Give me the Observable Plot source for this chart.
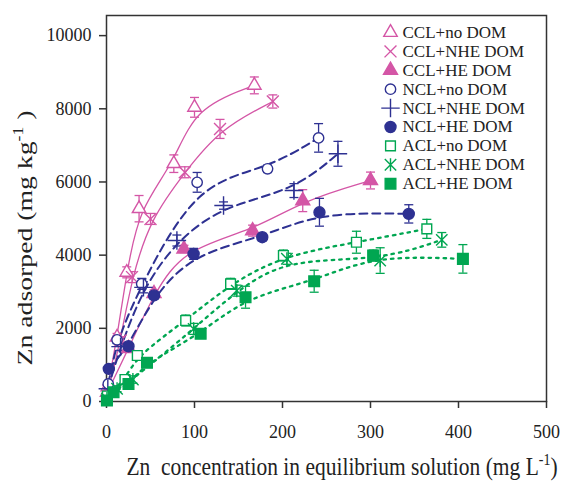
<!DOCTYPE html>
<html><head><meta charset="utf-8">
<script src="https://cdn.jsdelivr.net/npm/d3@7"></script>
<script src="https://cdn.jsdelivr.net/npm/@observablehq/plot@0.6"></script>
<style>
html,body{margin:0;padding:0;background:#fff;}
#chart{width:561px;height:483px;}
</style></head><body><div id="chart"></div>
<script>
// ---- data ----
const seriesNames = ["CCL+no DOM","CCL+NHE DOM","CCL+HE DOM","NCL+no DOM","NCL+NHE DOM","NCL+HE DOM","ACL+no DOM","ACL+NHE DOM","ACL+HE DOM"];
const xTicks = [0,100,200,300,400,500];
const yTicks = [0,2000,4000,6000,8000,10000];

const cclNoDomX = [1.5, 12, 23, 37, 76.5, 100, 168];
const cclNoDomY = [400, 1760, 3530, 5270, 6500, 8040, 8640];
const cclNoDomE = [0, 100, 150, 360, 240, 270, 230];

const cclNheX = [2, 16, 29, 50, 89, 129, 189];
const cclNheY = [300, 1670, 3400, 4990, 6265, 7450, 8200];
const cclNheE = [0, 100, 150, 150, 150, 260, 180];

const cclHeX = [1, 25, 54, 88, 166, 223, 300];
const cclHeY = [250, 1450, 2950, 4170, 4670, 5490, 6040];
const cclHeE = [0, 100, 100, 100, 150, 300, 230];

const nclNoDomX = [2, 12, 40, 103, 183, 241];
const nclNoDomY = [480, 1685, 3215, 5990, 6360, 7205];
const nclNoDomE = [0, 100, 150, 270, 100, 390];

const nclNheX = [1.5, 16, 42, 80, 133, 213, 263];
const nclNheY = [350, 1500, 3120, 4400, 5355, 5765, 6770];
const nclNheE = [0, 100, 150, 150, 100, 190, 340];

const nclHeX = [2.6, 25, 54, 99, 177, 242, 343.5];
const nclHeY = [893, 1510, 2900, 4035, 4490, 5172, 5128];
const nclHeE = [0, 100, 100, 150, 100, 380, 250];

const aclNoDomX = [1, 21, 35, 90, 141, 201, 284, 364];
const aclNoDomY = [150, 600, 1257, 2213, 3216, 3990, 4353, 4718];
const aclNoDomE = [0, 100, 120, 150, 150, 150, 300, 260];

const aclNheX = [0.5, 12, 30, 99, 148, 205, 311, 381];
const aclNheY = [80, 350, 600, 1985, 3030, 3900, 3852, 4418];
const aclNheE = [0, 80, 100, 150, 150, 150, 350, 200];

const aclHeX = [0.5, 8, 25, 46, 107, 158, 236, 303, 405];
const aclHeY = [30, 250, 480, 1057, 1850, 2850, 3287, 3989, 3898];
const aclHeE = [0, 80, 100, 100, 100, 300, 300, 150, 390];

const seriesX = [cclNoDomX, cclNheX, cclHeX, nclNoDomX, nclNheX, nclHeX, aclNoDomX, aclNheX, aclHeX];
const seriesY = [cclNoDomY, cclNheY, cclHeY, nclNoDomY, nclNheY, nclHeY, aclNoDomY, aclNheY, aclHeY];
const seriesE = [cclNoDomE, cclNheE, cclHeE, nclNoDomE, nclNheE, nclHeE, aclNoDomE, aclNheE, aclHeE];

// ---- styles ----
const PINK = "#d456a6", BLUE = "#2e3192", GREEN = "#00a651";
const FAM = "'Liberation Serif','Times New Roman',Times,serif";
const asteriskX = {draw(ctx, size){const r = Math.sqrt(size/Math.PI)*0.95;
  ctx.moveTo(-r,-r); ctx.lineTo(r,r); ctx.moveTo(-r,r); ctx.lineTo(r,-r);
  ctx.moveTo(0,-r*1.15); ctx.lineTo(0,r*1.15);}};
const capSym = {draw(ctx, size){const r = Math.sqrt(size/Math.PI); ctx.moveTo(-r,0); ctx.lineTo(r,0);}};
const styles = [
  {color: PINK, symbol: "triangle", filled: false, r: 5, dash: null, lw: 1.3},
  {color: PINK, symbol: "times", filled: false, r: 5.5, dash: null, lw: 1.3},
  {color: PINK, symbol: "triangle", filled: true, r: 5.2, dash: null, lw: 1.3},
  {color: BLUE, symbol: "circle", filled: false, r: 5.2, dash: "8,5", lw: 2},
  {color: BLUE, symbol: "plus", filled: false, r: 6, dash: "8,5", lw: 2},
  {color: BLUE, symbol: "circle", filled: true, r: 5.5, dash: "8,5", lw: 2},
  {color: GREEN, symbol: "square", filled: false, r: 5.5, dash: "2.5,5", lw: 2.3},
  {color: GREEN, symbol: asteriskX, filled: false, r: 6, dash: "2.5,5", lw: 2.3},
  {color: GREEN, symbol: "square", filled: true, r: 6, dash: "2.5,5", lw: 2.3}
];

const marks = [];
seriesNames.forEach((name, i) => {
  const s = styles[i];
  const rows = seriesX[i].map((x, j) => ({x, y: seriesY[i][j], e: seriesE[i][j]}));
  marks.push(Plot.line(rows, {x: "x", y: "y", stroke: s.color, strokeWidth: s.lw,
    strokeDasharray: s.dash ?? undefined, curve: "basis"}));
});
seriesNames.forEach((name, i) => {
  const s = styles[i];
  const rows = seriesX[i].map((x, j) => ({x, y: seriesY[i][j], e: seriesE[i][j]})).filter(d => d.e > 0);
  marks.push(Plot.ruleX(rows, {x: "x", y1: d => d.y - d.e, y2: d => d.y + d.e, stroke: s.color, strokeWidth: 1.3}));
  marks.push(Plot.dot(rows, {x: "x", y: d => d.y + d.e, symbol: capSym, r: 4.5, stroke: s.color, strokeWidth: 1.3}));
  marks.push(Plot.dot(rows, {x: "x", y: d => d.y - d.e, symbol: capSym, r: 4.5, stroke: s.color, strokeWidth: 1.3}));
});
seriesNames.forEach((name, i) => {
  const s = styles[i];
  const rows = seriesX[i].map((x, j) => ({x, y: seriesY[i][j]}));
  const opts = {x: "x", y: "y", symbol: s.symbol, r: s.r, strokeWidth: 1.4};
  if (s.filled) { opts.fill = s.color; opts.stroke = s.color; }
  else { opts.fill = "white"; opts.stroke = s.color; }
  marks.push(Plot.dot(rows, opts));
  // legend entry
  const lo = {frameAnchor: "top-left", dx: 284, dy: 17 + i * 18.9, symbol: s.symbol, r: s.r, strokeWidth: 1.4,
    stroke: s.color, fill: s.filled ? s.color : "white"};
  marks.push(Plot.dot([name], lo));
  marks.push(Plot.text([name], {text: d => d, frameAnchor: "top-left", dx: 296, dy: 17 + i * 18.9,
    textAnchor: "start", lineAnchor: "middle", fontSize: 17, fill: "#222"}));
});

const chart = Plot.plot({
  width: 561, height: 483,
  marginLeft: 106, marginRight: 15, marginTop: 15, marginBottom: 82,
  style: {fontFamily: FAM, background: "white", color: "#222"},
  x: {domain: [0, 500]},
  y: {domain: [0, 10550]},
  marks: [
    Plot.axisX({ticks: xTicks, tickSize: 7, tickPadding: 17, fontSize: 18, label: null, stroke: "#333", strokeWidth: 1.5}),
    Plot.axisY({ticks: yTicks, tickSize: 7, tickPadding: 8, fontSize: 18, label: null, tickFormat: d => String(d), stroke: "#333", strokeWidth: 1.5}),
    Plot.frame({stroke: "#333", strokeWidth: 1.5}),
    ...marks
  ]
});
document.getElementById("chart").appendChild(chart);

// axis titles with superscripts
const svg = d3.select(chart);
const xt = svg.append("text").attr("transform", "translate(342,475) scale(1,1.15)").attr("text-anchor", "middle")
  .attr("font-family", FAM).attr("font-size", 21.5).attr("fill", "#222");
xt.append("tspan").text("Zn  concentration in equilibrium solution (mg L");
xt.append("tspan").attr("font-size", 14).attr("dy", -9).text("-1");
xt.append("tspan").attr("dy", 9).text(")");
const yt = svg.append("text").attr("transform", "translate(32,238) rotate(-90) scale(1.26,1)").attr("text-anchor", "middle")
  .attr("font-family", FAM).attr("font-size", 22).attr("fill", "#222");
yt.append("tspan").text("Zn adsorped (mg kg");
yt.append("tspan").attr("font-size", 14).attr("dy", -9).text("-1");
yt.append("tspan").attr("dy", 9).text(" )");
</script></body></html>
